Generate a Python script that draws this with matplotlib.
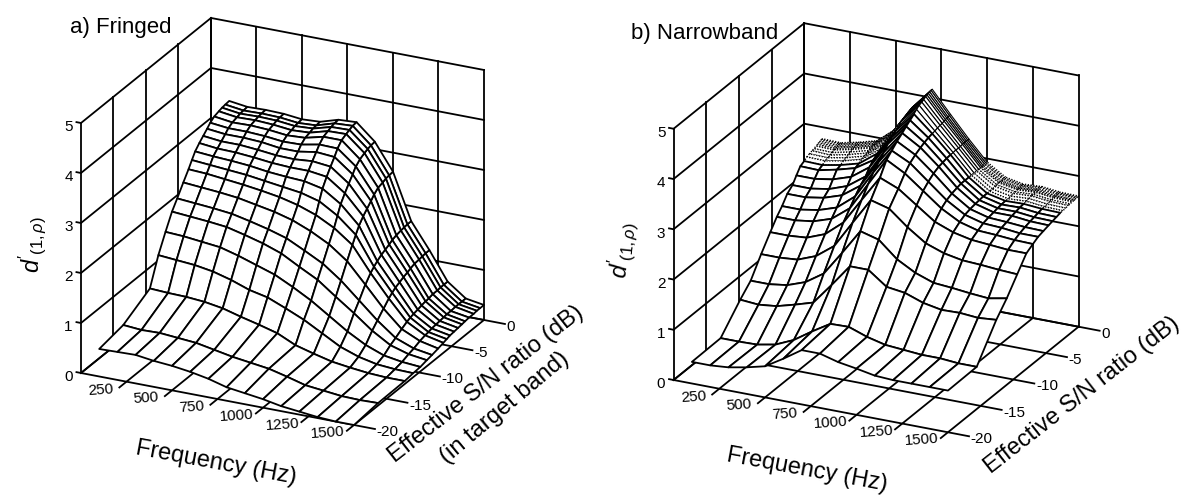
import numpy as np
import matplotlib
matplotlib.use("Agg")
from matplotlib import pyplot as plt
from mpl_toolkits.mplot3d import proj3d

plt.rcParams['font.family'] = ['Liberation Sans', 'DejaVu Sans']
plt.rcParams['mathtext.fontset'] = 'custom'
plt.rcParams['mathtext.rm'] = 'Liberation Sans'
plt.rcParams['mathtext.it'] = 'Liberation Sans:italic'

W, H = 1186, 496

f_ticks = [250, 500, 750, 1000, 1250, 1500]
s_ticks = [-20, -15, -10, -5, 0]
z_ticks = [0, 1, 2, 3, 4, 5]

freq = [100, 200, 300, 400, 500, 600, 700, 800, 900, 1000, 1100, 1200, 1300, 1400, 1500]

snr_a = [-20, -16.3, -12.2, -10.9, -9.8, -8.8, -8, -7.06, -6.26, -5.74, -5.24, -4.6, -4, -3.4, -2.92, -2.3, -1.6, -1.1, -0.6, 0]
d_a = [
    [.55, .56, .57, .52, .49, .44, .37, .27, .22, .17, .10, .06, .02, .00, .00],
    [.64, .61, .62, .59, .56, .49, .42, .37, .32, .23, .13, .09, .05, .04, .05],
    [.94, .92, .91, .88, .82, .72, .63, .53, .36, .26, .17, .12, .08, .06, .06],
    [1.47, 1.44, 1.41, 1.35, 1.25, 1.12, 1.04, .89, .73, .53, .33, .20, .12, .09, .08],
    [1.82, 1.80, 1.76, 1.72, 1.62, 1.50, 1.38, 1.20, 1.00, .76, .52, .32, .18, .12, .09],
    [2.12, 2.09, 2.06, 2.02, 1.93, 1.83, 1.70, 1.50, 1.31, 1.04, .78, .50, .28, .17, .12],
    [2.30, 2.27, 2.24, 2.20, 2.12, 2.03, 1.92, 1.74, 1.55, 1.28, .95, .62, .34, .20, .14],
    [2.52, 2.49, 2.46, 2.42, 2.35, 2.28, 2.18, 2.03, 1.84, 1.57, 1.17, .76, .42, .25, .17],
    [2.70, 2.68, 2.64, 2.60, 2.55, 2.49, 2.40, 2.27, 2.08, 1.81, 1.32, .88, .48, .28, .20],
    [2.83, 2.80, 2.77, 2.74, 2.69, 2.64, 2.59, 2.49, 2.27, 1.96, 1.39, .94, .51, .29, .22],
    [2.95, 2.92, 2.90, 2.87, 2.82, 2.79, 2.77, 2.69, 2.45, 2.09, 1.45, .99, .53, .31, .24],
    [3.05, 3.01, 3.00, 2.97, 2.93, 2.91, 2.91, 2.86, 2.60, 2.21, 1.51, 1.03, .55, .32, .25],
    [3.13, 3.09, 3.09, 3.06, 3.02, 3.01, 3.04, 3.00, 2.73, 2.30, 1.55, 1.07, .57, .33, .26],
    [3.21, 3.17, 3.17, 3.15, 3.10, 3.10, 3.16, 3.13, 2.85, 2.39, 1.59, 1.10, .59, .34, .27],
    [3.28, 3.24, 3.24, 3.22, 3.18, 3.19, 3.26, 3.25, 2.96, 2.47, 1.63, 1.13, .60, .35, .28],
    [3.34, 3.29, 3.30, 3.28, 3.24, 3.26, 3.35, 3.35, 3.04, 2.54, 1.66, 1.16, .62, .35, .29],
    [3.37, 3.32, 3.33, 3.31, 3.27, 3.29, 3.39, 3.40, 3.09, 2.57, 1.68, 1.17, .62, .36, .29],
    [3.39, 3.34, 3.35, 3.34, 3.30, 3.32, 3.42, 3.43, 3.12, 2.60, 1.69, 1.18, .63, .36, .30],
    [3.40, 3.35, 3.36, 3.35, 3.31, 3.33, 3.44, 3.46, 3.14, 2.61, 1.70, 1.19, .63, .36, .30],
    [3.41, 3.36, 3.37, 3.36, 3.32, 3.34, 3.45, 3.47, 3.15, 2.62, 1.70, 1.19, .63, .36, .30],
]

snr_b = [-20, -15.6, -12.6, -11, -9.4, -8, -7, -6.2, -5.4, -4.6, -4, -3.4, -2.8, -2.4, -2, -1.6, -1.3, -1, -.8, -.6, -.4, -.2, 0]
d_b = [
    [.43, .43, .46, .53, .62, .84, 1.08, 1.08, .98, .92, .85, .83, .83, .83, .83],
    [.44, .44, .45, .52, .68, .92, 1.14, 1.15, 1.02, .93, .90, .87, .87, .84, .84],
    [.89, .86, .90, 1.00, 1.11, 1.53, 1.97, 1.97, 1.70, 1.65, 1.52, 1.45, 1.46, 1.43, 1.46],
    [1.10, 1.10, 1.15, 1.28, 1.52, 2.00, 2.50, 2.40, 2.08, 1.88, 1.75, 1.72, 1.68, 1.65, 1.72],
    [1.46, 1.46, 1.49, 1.63, 1.90, 2.43, 2.95, 2.85, 2.55, 2.30, 2.17, 2.10, 2.08, 2.05, 2.03],
    [1.75, 1.75, 1.78, 1.92, 2.22, 2.74, 3.25, 3.10, 2.84, 2.58, 2.44, 2.36, 2.33, 2.30, 2.30],
    [1.95, 1.95, 2.00, 2.12, 2.40, 2.95, 3.50, 3.30, 3.02, 2.74, 2.54, 2.44, 2.42, 2.39, 2.38],
    [2.08, 2.08, 2.14, 2.26, 2.55, 3.10, 3.60, 3.42, 3.12, 2.82, 2.60, 2.50, 2.48, 2.44, 2.44],
    [2.24, 2.24, 2.30, 2.42, 2.68, 3.22, 3.70, 3.50, 3.20, 2.87, 2.63, 2.53, 2.51, 2.48, 2.47],
    [2.33, 2.33, 2.39, 2.52, 2.78, 3.33, 3.78, 3.56, 3.25, 2.90, 2.65, 2.55, 2.55, 2.51, 2.50],
    [2.46, 2.46, 2.52, 2.64, 2.90, 3.43, 3.85, 3.60, 3.27, 2.92, 2.66, 2.57, 2.57, 2.53, 2.52],
    [2.58, 2.57, 2.65, 2.75, 2.98, 3.50, 3.91, 3.63, 3.29, 2.92, 2.67, 2.58, 2.59, 2.55, 2.54],
    [2.62, 2.61, 2.68, 2.78, 3.05, 3.57, 3.97, 3.65, 3.30, 2.92, 2.67, 2.59, 2.60, 2.57, 2.56],
    [2.66, 2.65, 2.72, 2.82, 3.09, 3.61, 4.02, 3.66, 3.30, 2.92, 2.67, 2.59, 2.61, 2.57, 2.56],
    [2.68, 2.67, 2.74, 2.84, 3.13, 3.66, 4.06, 3.68, 3.31, 2.92, 2.67, 2.60, 2.62, 2.58, 2.57],
    [2.70, 2.68, 2.76, 2.86, 3.15, 3.68, 4.08, 3.69, 3.31, 2.92, 2.68, 2.61, 2.63, 2.59, 2.58],
    [2.71, 2.70, 2.78, 2.88, 3.18, 3.70, 4.10, 3.70, 3.31, 2.92, 2.68, 2.61, 2.63, 2.59, 2.58],
    [2.73, 2.72, 2.80, 2.90, 3.20, 3.72, 4.13, 3.71, 3.32, 2.92, 2.69, 2.62, 2.64, 2.60, 2.59],
    [2.74, 2.73, 2.81, 2.91, 3.21, 3.74, 4.14, 3.72, 3.32, 2.92, 2.69, 2.62, 2.64, 2.60, 2.59],
    [2.75, 2.74, 2.82, 2.92, 3.22, 3.75, 4.15, 3.73, 3.32, 2.92, 2.69, 2.62, 2.64, 2.60, 2.59],
    [2.76, 2.75, 2.83, 2.93, 3.23, 3.76, 4.16, 3.73, 3.32, 2.93, 2.70, 2.63, 2.64, 2.61, 2.60],
    [2.77, 2.76, 2.84, 2.94, 3.24, 3.77, 4.17, 3.74, 3.32, 2.93, 2.70, 2.63, 2.65, 2.61, 2.60],
    [2.77, 2.76, 2.84, 2.94, 3.24, 3.77, 4.17, 3.74, 3.32, 2.93, 2.70, 2.63, 2.65, 2.61, 2.60],
]

fig = plt.figure(figsize=(W / 100, H / 100), dpi=100)


def line(ax, xs, ys, zs):
    ax.plot(xs, ys, zs, color='black', lw=1.3, zorder=1, clip_on=False)


def to_px(ax, x, y, z):
    px, py, _ = proj3d.proj_transform(np.atleast_1d(x), np.atleast_1d(y), np.atleast_1d(z), ax.get_proj())
    return ax.transData.transform(np.c_[px, py])


def place_box(ax, a_px, c_px):
    # shift and scale the axes so the floor corners land on these pixels
    ax.apply_aspect()
    pts = to_px(ax, [0, 1500], [-20, 0], [0, 0])
    target = np.array([[a_px[0], H - a_px[1]], [c_px[0], H - c_px[1]]])
    scale = (target[1, 0] - target[0, 0]) / (pts[1, 0] - pts[0, 0])
    pos = ax.get_position()
    cx, cy = (pos.x0 + pos.width / 2) * W, (pos.y0 + pos.height / 2) * H
    new_c = target[0] - (pts[0] - [cx, cy]) * scale
    size = pos.width * W * scale
    ax.set_position([(new_c[0] - size / 2) / W, (new_c[1] - size / 2) / H, size / W, size / H])
    ax.apply_aspect()


def tick_text(ax, x, y, z, s, **kw):
    p = to_px(ax, x, y, z)[0]
    fig.text(p[0] / W, p[1] / H, s, va='center', fontsize=11, **kw)


def mesh(ax, snr, d, rows, cols, zo, **style):
    r0, r1 = rows
    c0, c1 = cols
    X, Y = np.meshgrid(freq[c0:c1], snr[r0:r1])
    Z = np.array(d)[r0:r1, c0:c1]
    surf = ax.plot_surface(X, Y, Z, rstride=1, cstride=1, color='white', shade=False,
                           edgecolor='black', zorder=zo, **style)
    surf.set_clip_on(False)


def panel(a_px, c_px):
    ax = fig.add_axes([0.2, 0.1, 600 / W, 600 / H], projection='3d', proj_type='ortho', computed_zorder=False)
    ax.set_axis_off()
    ax.patch.set_facecolor('none')
    ax.set_xlim(0, 1500)
    ax.set_ylim(-20, 0)
    ax.set_zlim(0, 5)
    ax.view_init(elev=23.1, azim=-64.1)
    ax.set_box_aspect((303.5, 297.6, 271.8))
    place_box(ax, a_px, c_px)

    # walls and floor
    for z in z_ticks:
        line(ax, [0, 0], [-20, 0], [z, z])
        line(ax, [0, 1500], [0, 0], [z, z])
        line(ax, [-25, 0], [-20, -20], [z, z])
        tick_text(ax, -45, -20, z - 0.12, str(z), ha='right')
    line(ax, [0, 0], [0, 0], [0, 5])
    line(ax, [0, 0], [-20, 0], [0, 0])
    for f in f_ticks:
        line(ax, [f, f], [0, 0], [0, 5])
        line(ax, [f, f], [-21.1, 0], [0, 0])
        tick_text(ax, f, -24, 0.26, str(f), ha='center', rotation=4)
    for s in s_ticks:
        line(ax, [0, 0], [s, s], [0, 5])
        line(ax, [0, 1615], [s, s], [0, 0])
        tick_text(ax, 1625, s, -0.05, str(s), ha='left')
    return ax


ax_a = panel((81, 373), (484, 320))
mesh(ax_a, snr_a, d_a, (0, len(snr_a)), (0, len(freq)), 2, linewidth=1.3)

ax_b = panel((673.6, 380), (1078.6, 328))
# the rows packed against 0 dB print as a stipple on the two plateaus, back to front
stipple = dict(linewidth=1.0, linestyle=(0, (0.9, 1.1)))
mesh(ax_b, snr_b, d_b, (12, len(snr_b)), (0, 6), 2, **stipple)
mesh(ax_b, snr_b, d_b, (12, len(snr_b)), (5, 10), 3, linewidth=0.8)
mesh(ax_b, snr_b, d_b, (12, len(snr_b)), (9, len(freq)), 4, **stipple)
mesh(ax_b, snr_b, d_b, (0, 13), (0, len(freq)), 5, linewidth=1.3)


def label(x, y, s, **kw):
    fig.text(x / W, 1 - y / H, s, ha='center', va='center', rotation_mode='anchor', **kw)


label(121, 27, "a) Fringed", fontsize=16)
label(705, 33, "b) Narrowband", fontsize=16)
label(216, 463, "Frequency (Hz)", fontsize=17, rotation=-10.5)
label(807, 470, "Frequency (Hz)", fontsize=17, rotation=-10.5)
label(486, 384, "Effective S/N ratio (dB)", fontsize=17, rotation=38)
label(505, 408, "(in target band)", fontsize=17, rotation=40)
label(1082, 395, "Effective S/N ratio (dB)", fontsize=17, rotation=38)
label(32, 245, r"$d'_{(1,\rho)}$", fontsize=17, rotation=90)
label(622, 250, r"$d'_{(1,\rho)}$", fontsize=17, rotation=84)

plt.savefig("out.png", dpi=100)
